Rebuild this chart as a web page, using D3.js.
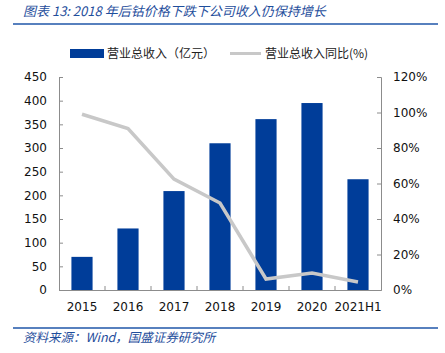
<!DOCTYPE html>
<html><head><meta charset="utf-8">
<script src="https://cdn.jsdelivr.net/npm/d3@7"></script>
<style>body{margin:0;background:#fff}svg{display:block}</style>
</head><body>
<svg id="c" width="445" height="353"></svg>
<script>
const categories = ["2015","2016","2017","2018","2019","2020","2021H1"];
const revenue = [70, 130, 209, 310, 361, 395, 234];
const yoy = [99, 91, 62.5, 49, 6.2, 9.6, 4.5];
const leftTicks = [0,50,100,150,200,250,300,350,400,450];
const rightTicks = [0,20,40,60,80,100,120];
const title = "图表 13:  2018 年后钴价格下跌下公司收入仍保持增长";
const source = "资料来源：Wind，国盛证券研究所";
const legendLabels = ["营业总收入（亿元）","营业总收入同比(%)"];

const svg = d3.select("#c");
const blue = "#003d99", gray = "#c8c8c8", axisC = "#8c8c8c", textBlue = "#1f4e9c";
const font = "Tahoma, 'DejaVu Sans', Verdana, sans-serif";
const cjk = "'Noto Sans CJK SC', sans-serif";
const L = 59, R = 381, T = 77, B = 290;

const x = d3.scaleBand().domain(categories).range([L, R]).paddingInner(0.54).paddingOuter(0.27);
const xb = d3.scaleBand().domain(categories).range([L, R]);
const yL = d3.scaleLinear().domain([0,450]).range([B, T]);
const yR = d3.scaleLinear().domain([0,120]).range([B, T]);

// title
svg.append("text").attr("x",23).attr("y",16).attr("fill",textBlue)
  .attr("font-family",cjk).attr("font-size",13).attr("font-style","italic").text(title);
svg.append("line").attr("x1",13).attr("x2",438).attr("y1",24).attr("y2",24).attr("stroke","#1f56a8").attr("stroke-width",1.5);

// bars
svg.selectAll("rect.bar").data(revenue).join("rect").attr("class","bar")
  .attr("x",(d,i)=>x(categories[i])).attr("width",x.bandwidth())
  .attr("y",d=>yL(d)).attr("height",d=>B-yL(d)).attr("fill",blue);

// line
const line = d3.line().x((d,i)=>xb(categories[i])+xb.bandwidth()/2).y(d=>yR(d));
svg.append("path").datum(yoy).attr("d",line).attr("fill","none").attr("stroke",gray).attr("stroke-width",3.5).attr("stroke-linejoin","miter");

// axes
const gL = svg.append("g").attr("transform",`translate(${L},0)`)
  .call(d3.axisLeft(yL).tickValues(leftTicks).tickSize(-4).tickPadding(12));
const gR = svg.append("g").attr("transform",`translate(${R},0)`)
  .call(d3.axisRight(yR).tickValues(rightTicks).tickSize(-4).tickPadding(12).tickFormat(d=>d+"%"));
const gB = svg.append("g").attr("transform",`translate(0,${B})`)
  .call(d3.axisBottom(xb).tickSize(0).tickPadding(12));
// category boundary ticks (inward)
svg.selectAll("line.bt").data(categories.slice(1)).join("line").attr("class","bt")
  .attr("x1",d=>xb(d)).attr("x2",d=>xb(d)).attr("y1",B).attr("y2",B-4).attr("stroke",axisC);
[gL,gR,gB].forEach(g=>{
  g.selectAll("path.domain").attr("stroke",axisC);
  g.selectAll(".tick line").attr("stroke",axisC);
  g.selectAll("text").attr("font-family",font).attr("font-size",12).attr("fill","#111");
});

// legend
svg.append("rect").attr("x",70).attr("y",49).attr("width",34).attr("height",9).attr("fill",blue);
svg.append("text").attr("x",107).attr("y",58).attr("font-family",cjk).attr("font-size",12).attr("fill","#222").text(legendLabels[0]);
svg.append("line").attr("x1",230).attr("x2",261).attr("y1",53.5).attr("y2",53.5).attr("stroke",gray).attr("stroke-width",3);
svg.append("text").attr("x",265).attr("y",58).attr("font-family",cjk).attr("font-size",12).attr("fill","#222").text(legendLabels[1]);

// footer
svg.append("line").attr("x1",13).attr("x2",438).attr("y1",328).attr("y2",328).attr("stroke","#1f56a8").attr("stroke-width",1.5);
svg.append("text").attr("x",23).attr("y",342).attr("fill",textBlue)
  .attr("font-family",cjk).attr("font-size",12.5).attr("font-style","italic").text(source);
</script>
</body></html>
